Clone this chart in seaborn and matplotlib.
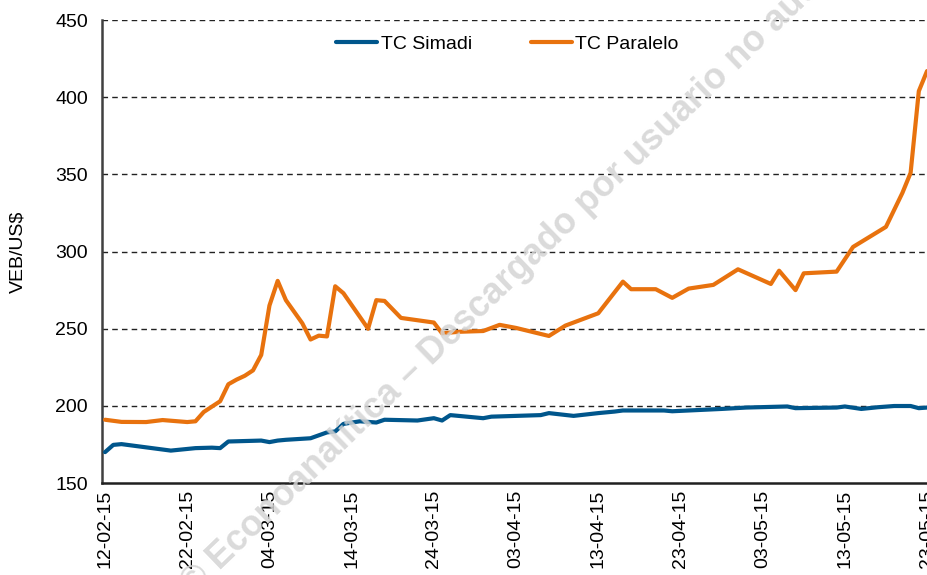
import matplotlib
matplotlib.use("Agg")
import matplotlib.pyplot as plt
import matplotlib.dates as mdates
import seaborn as sns
import pandas as pd

# ---- data ----
paralelo_dates = ["2015-02-12", "2015-02-14", "2015-02-17", "2015-02-19", "2015-02-22", "2015-02-23",
                  "2015-02-24", "2015-02-26", "2015-02-27", "2015-02-28", "2015-03-01", "2015-03-02",
                  "2015-03-03", "2015-03-04", "2015-03-05", "2015-03-06", "2015-03-08", "2015-03-09",
                  "2015-03-10", "2015-03-11", "2015-03-12", "2015-03-13", "2015-03-16", "2015-03-17",
                  "2015-03-18", "2015-03-20", "2015-03-24", "2015-03-25", "2015-03-27", "2015-03-30",
                  "2015-04-01", "2015-04-03", "2015-04-07", "2015-04-09", "2015-04-13", "2015-04-16",
                  "2015-04-17", "2015-04-20", "2015-04-22", "2015-04-24", "2015-04-27", "2015-04-30",
                  "2015-05-04", "2015-05-05", "2015-05-07", "2015-05-08", "2015-05-12", "2015-05-14",
                  "2015-05-18", "2015-05-20", "2015-05-21", "2015-05-22", "2015-05-23"]
paralelo_values = [191, 189.6, 189.5, 190.8, 189.5, 190,
                   196, 203, 214, 217, 219.5, 223,
                   233, 265, 281, 268.5, 253.5, 243,
                   245.5, 245, 277.5, 273, 250, 268.5,
                   268, 257, 254, 247, 248, 248.5,
                   252.5, 250.5, 245.3, 252, 260, 280.5,
                   275.6, 275.6, 270, 276, 278.4, 288.5,
                   279, 287.6, 275, 285.9, 287, 303,
                   316, 338, 351, 404, 417]

simadi_dates = ["2015-02-12", "2015-02-13", "2015-02-14", "2015-02-20", "2015-02-23", "2015-02-25",
                "2015-02-26", "2015-02-27", "2015-03-03", "2015-03-04", "2015-03-05", "2015-03-06",
                "2015-03-09", "2015-03-11", "2015-03-12", "2015-03-13", "2015-03-15", "2015-03-17",
                "2015-03-18", "2015-03-22", "2015-03-24", "2015-03-25", "2015-03-26", "2015-03-30",
                "2015-03-31", "2015-04-06", "2015-04-07", "2015-04-10", "2015-04-13", "2015-04-15",
                "2015-04-16", "2015-04-21", "2015-04-22", "2015-04-28", "2015-05-01", "2015-05-06",
                "2015-05-07", "2015-05-12", "2015-05-13", "2015-05-15", "2015-05-17", "2015-05-19",
                "2015-05-21", "2015-05-22", "2015-05-23"]
simadi_values = [170, 174.7, 175.2, 171, 172.6, 172.9,
                 172.6, 176.9, 177.5, 176.5, 177.5, 178,
                 179, 182.8, 183.4, 188.3, 190, 189.2,
                 191, 190.5, 192, 190.5, 194, 192,
                 193, 194, 195.3, 193.5, 195.3, 196.3,
                 197, 197, 196.5, 198, 198.9, 199.6,
                 198.5, 198.9, 199.6, 198, 199.1, 199.9,
                 199.9, 198.5, 198.9]

series_names = ["TC Simadi", "TC Paralelo"]
tick_dates = ["2015-02-12", "2015-02-22", "2015-03-04", "2015-03-14", "2015-03-24", "2015-04-03",
              "2015-04-13", "2015-04-23", "2015-05-03", "2015-05-13", "2015-05-23"]
y_ticks = [150, 200, 250, 300, 350, 400, 450]
y_label = "VEB/US$"
watermark = "© Econoanalítica – Descargado por usuario no autorizado"

df = pd.concat([
    pd.DataFrame({"fecha": pd.to_datetime(simadi_dates), "valor": simadi_values, "serie": series_names[0]}),
    pd.DataFrame({"fecha": pd.to_datetime(paralelo_dates), "valor": paralelo_values, "serie": series_names[1]}),
])

sns.set_style("white")
plt.rcParams["font.family"] = ["Liberation Sans", "DejaVu Sans"]
plt.rcParams["text.color"] = "black"
plt.rcParams["axes.labelcolor"] = "black"
plt.rcParams["xtick.color"] = "black"
plt.rcParams["ytick.color"] = "black"

fig = plt.figure(figsize=(9.27, 5.75), dpi=100)
ax = fig.add_axes([0.110, 0.160, 0.893, 0.805])

palette = {series_names[0]: "#00568C", series_names[1]: "#E8720E"}
sns.lineplot(data=df, x="fecha", y="valor", hue="serie", palette=palette,
             linewidth=3.0, ax=ax, zorder=3)
for ln in ax.get_lines():
    ln.set_solid_joinstyle("round")
    ln.set_solid_capstyle("round")

ax.set_ylim(150, 450)
ax.set_yticks(y_ticks)
t0 = pd.Timestamp(tick_dates[0])
t1 = pd.Timestamp(tick_dates[-1])
ax.set_xlim(t0 - pd.Timedelta(hours=9), t1 + pd.Timedelta(hours=8))
ax.set_xticks(pd.to_datetime(tick_dates))
ax.xaxis.set_major_formatter(mdates.DateFormatter("%d-%m-%y"))
plt.setp(ax.get_xticklabels(), rotation=90)

ax.tick_params(axis="y", labelsize=14, length=0, pad=10, labelcolor="black")
ax.tick_params(axis="x", labelsize=14, length=0, pad=5, labelcolor="black")
ax.set_xlabel("")
ax.set_ylabel(y_label, fontsize=14, labelpad=21, color="black")

for v in y_ticks[1:]:
    ax.axhline(v, color="#222222", linestyle=(0, (4, 3)), linewidth=1.0, zorder=1)

for s in ["top", "right"]:
    ax.spines[s].set_visible(False)
ax.spines["left"].set_color("#404040")
ax.spines["left"].set_linewidth(1.8)
ax.spines["bottom"].set_color("#202020")
ax.spines["bottom"].set_linewidth(1.8)

leg = ax.legend(loc="center", bbox_to_anchor=(0.49, 0.948), ncol=2, frameon=False,
                fontsize=14, handlelength=2.1, handletextpad=0.2, columnspacing=3.0)
for h in leg.get_lines():
    h.set_linewidth(3.0)
for t in leg.get_texts():
    t.set_color("black")

fig.text(193 / 927, 1 - 596 / 575, watermark, rotation=44, rotation_mode="anchor",
         ha="left", va="baseline", fontsize=26, fontweight="bold", color="#d4d4d4",
         alpha=0.85, zorder=10)

fig.savefig("out.png", dpi=100)
